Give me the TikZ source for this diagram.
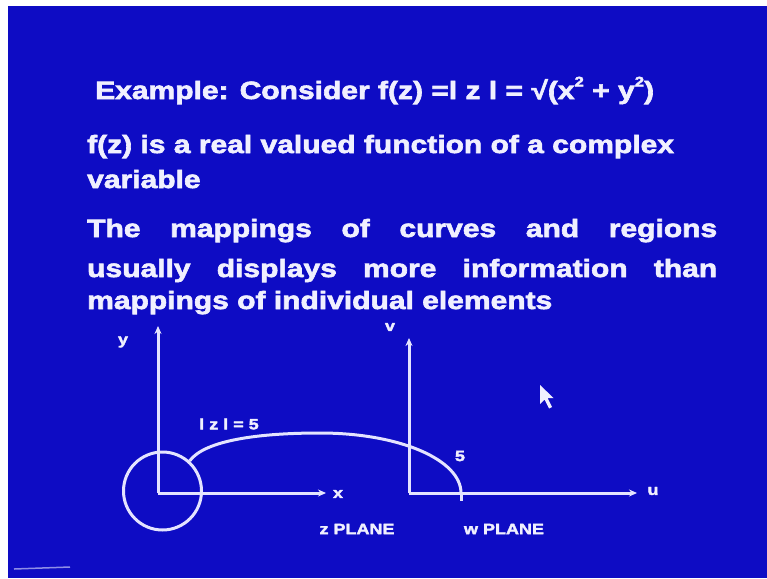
\documentclass[tikz,border=0pt]{standalone}
\usepackage{fontspec}
\newfontfamily\slidefont{Liberation Sans}[FakeStretch=1.2,BoldFeatures={FakeBold=2.5}]
\usetikzlibrary{arrows.meta}
\definecolor{slideblue}{RGB}{14,12,196}
\definecolor{fg}{RGB}{240,240,255}
\definecolor{ln}{RGB}{228,228,255}
\newcommand{\supr}[1]{\raisebox{0.5em}{\fontsize{14}{14}\selectfont #1}}
\tikzset{
  txt/.style={inner sep=0pt, text=fg, anchor=base west, font=\slidefont\bfseries\fontsize{25}{30}\selectfont},
  lbl/.style={inner sep=0pt, text=fg, font=\slidefont\bfseries\fontsize{15}{17}\selectfont},
  axis/.style={draw=ln, line width=3pt, -{Stealth[length=8pt,width=7pt]}},
  curveline/.style={draw=ln, line width=3pt},
}
\begin{document}
\begin{tikzpicture}[x=1pt,y=-1pt]
\fill[white] (0,0) rectangle (767,578);
\fill[slideblue] (8,6) rectangle (767,578);
\useasboundingbox (0,0) rectangle (767,578);
% text
\node[txt] (t1) at (95,99) {Example: Consider f(z) =l z l = √(x\supr{2} + y\supr{2})};
\node[txt] (t2) at (87,153) {f(z) is a real valued function of a complex};
\node[txt] (t3) at (87,188) {variable};
\node[txt] (t4) at (87,237) {\makebox[630pt][s]{The mappings of curves and regions}};
\node[txt] (t5) at (87,277) {\makebox[630pt][s]{usually displays more information than}};
\node[txt] (t6) at (87,309) {mappings of individual elements};
% z plane
\coordinate (zO) at (158,493);
\coordinate (zY) at (158,326);
\coordinate (zX) at (326,493);
\draw[axis] (zO) -- (zY);
\draw[axis] (zO) -- (zX);
\node[circle, draw=ln, line width=3pt, minimum size=78pt, inner sep=0pt] (C) at (162.5,491) {};
\node[lbl] (ly) at (123,342) {y};
\node[lbl] (lx) at (338,494) {x};
\node[lbl] (lz) at (229,424) {l z l = 5};
\node[lbl] (zp) at (357,529) {z PLANE};
% w plane
\coordinate (wO) at (409,493);
\coordinate (wV) at (409,338);
\coordinate (wU) at (637,493);
\coordinate (w5) at (461,493);
\coordinate (w5b) at (461,501);
\draw[axis] (wO) -- (wV);
\draw[axis] (wO) -- (wU);
\draw[curveline] (w5) -- (w5b);
\node[lbl] (lv) at (390,327) {v};
\node[lbl] (lu) at (653,491) {u};
\node[lbl] (l5) at (460,456) {5};
\node[lbl] (wp) at (504,529) {w PLANE};
% mapping curve
\draw[curveline] (C.48) .. controls (205,440) and (260,433) .. (320,433)
  .. controls (400,433) and (461,460) .. (w5);
% mouse pointer
\fill[fg] (540,385) -- (540,404) -- (544.5,399.5) -- (549,408.5) -- (552,407) -- (547.5,398) -- (553.5,398) -- cycle;
% faint artifact bottom-left
\draw[ln!60!slideblue, line width=1.5pt] (14,569) -- (70,567);
\end{tikzpicture}
\end{document}
